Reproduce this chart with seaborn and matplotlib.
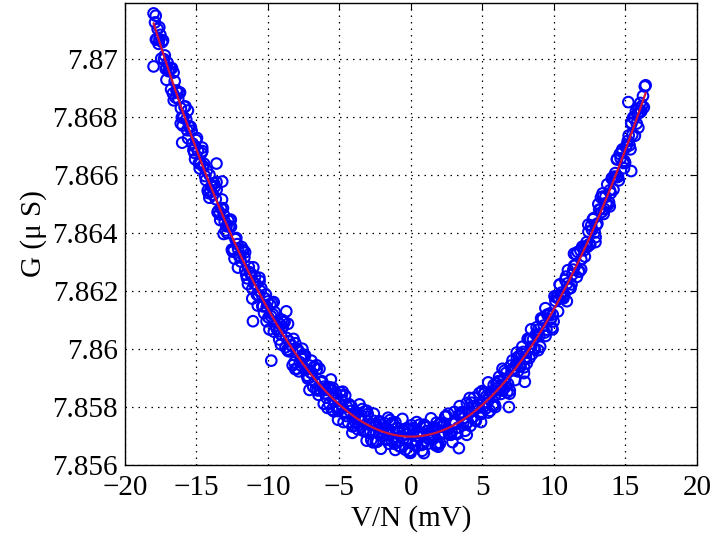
import numpy as np
import pandas as pd
import matplotlib
matplotlib.use("Agg")
import matplotlib.pyplot as plt
import seaborn as sns

# ---- data (V/N in mV, G in micro-siemens) ----
v_scan_a = [-17.9, -17.65, -17.4, -17.15, -16.9, -16.65, -16.4, -16.15, -15.9, -15.65,
            -15.4, -15.15, -14.9, -14.65, -14.4, -14.15, -13.9, -13.65, -13.4, -13.15,
            -12.9, -12.65, -12.4, -12.15, -11.9, -11.65, -11.4, -11.15, -10.9, -10.65,
            -10.4, -10.15, -9.9, -9.65, -9.4, -9.15, -8.9, -8.65, -8.4, -8.15,
            -7.9, -7.65, -7.4, -7.15, -6.9, -6.65, -6.4, -6.15, -5.9, -5.65,
            -5.4, -5.15, -4.9, -4.65, -4.4, -4.15, -3.9, -3.65, -3.4, -3.15,
            -2.9, -2.65, -2.4, -2.15, -1.9, -1.65, -1.4, -1.15, -0.9, -0.65,
            -0.4, -0.15, 0.1, 0.35, 0.6, 0.85, 1.1, 1.35, 1.6, 1.85,
            2.1, 2.35, 2.6, 2.85, 3.1, 3.35, 3.6, 3.85, 4.1, 4.35,
            4.6, 4.85, 5.1, 5.35, 5.6, 5.85, 6.1, 6.35, 6.6, 6.85,
            7.1, 7.35, 7.6, 7.85, 8.1, 8.35, 8.6, 8.85, 9.1, 9.35,
            9.6, 9.85, 10.1, 10.35, 10.6, 10.85, 11.1, 11.35, 11.6, 11.85,
            12.1, 12.35, 12.6, 12.85, 13.1, 13.35, 13.6, 13.85, 14.1, 14.35,
            14.6, 14.85, 15.1, 15.35, 15.6, 15.85, 16.1, 16.35]
g_scan_a = [7.87127, 7.87053, 7.87059, 7.86966, 7.86959, 7.86882, 7.86892, 7.86885, 7.86801, 7.86755,
            7.86766, 7.86677, 7.86684, 7.86676, 7.86597, 7.86538, 7.86565, 7.86517, 7.86465, 7.86486,
            7.86424, 7.86446, 7.86344, 7.86362, 7.86302, 7.86316, 7.86224, 7.86252, 7.86250, 7.86186,
            7.86148, 7.86188, 7.86068, 7.86119, 7.86071, 7.86085, 7.86096, 7.85998, 7.86013, 7.85954,
            7.85997, 7.85942, 7.85978, 7.85902, 7.85916, 7.85862, 7.85932, 7.85863, 7.85832, 7.85867,
            7.85785, 7.85829, 7.85825, 7.85784, 7.85747, 7.85801, 7.85749, 7.85766, 7.85793, 7.85716,
            7.85739, 7.85678, 7.85740, 7.85747, 7.85703, 7.85689, 7.85741, 7.85673, 7.85713, 7.85699,
            7.85653, 7.85722, 7.85705, 7.85683, 7.85739, 7.85672, 7.85717, 7.85700, 7.85728, 7.85674,
            7.85746, 7.85709, 7.85777, 7.85713, 7.85744, 7.85658, 7.85779, 7.85742, 7.85831, 7.85765,
            7.85800, 7.85775, 7.85846, 7.85815, 7.85853, 7.85808, 7.85889, 7.85874, 7.85869, 7.85800,
            7.85961, 7.85947, 7.85941, 7.85990, 7.85951, 7.86034, 7.86004, 7.86050, 7.86106, 7.86057,
            7.86117, 7.86074, 7.86166, 7.86173, 7.86179, 7.86250, 7.86211, 7.86274, 7.86249, 7.86340,
            7.86341, 7.86353, 7.86426, 7.86402, 7.86500, 7.86473, 7.86526, 7.86506, 7.86592, 7.86593,
            7.86673, 7.86642, 7.86705, 7.86689, 7.86796, 7.86814, 7.86820, 7.86906]

v_scan_b = [-17.775, -17.525, -17.275, -17.025, -16.775, -16.525, -16.275, -16.025, -15.775, -15.525,
            -15.275, -15.025, -14.775, -14.525, -14.275, -14.025, -13.775, -13.525, -13.275, -13.025,
            -12.775, -12.525, -12.275, -12.025, -11.775, -11.525, -11.275, -11.025, -10.775, -10.525,
            -10.275, -10.025, -9.775, -9.525, -9.275, -9.025, -8.775, -8.525, -8.275, -8.025,
            -7.775, -7.525, -7.275, -7.025, -6.775, -6.525, -6.275, -6.025, -5.775, -5.525,
            -5.275, -5.025, -4.775, -4.525, -4.275, -4.025, -3.775, -3.525, -3.275, -3.025,
            -2.775, -2.525, -2.275, -2.025, -1.775, -1.525, -1.275, -1.025, -0.775, -0.525,
            -0.275, -0.025, 0.225, 0.475, 0.725, 0.975, 1.225, 1.475, 1.725, 1.975,
            2.225, 2.475, 2.725, 2.975, 3.225, 3.475, 3.725, 3.975, 4.225, 4.475,
            4.725, 4.975, 5.225, 5.475, 5.725, 5.975, 6.225, 6.475, 6.725, 6.975,
            7.225, 7.475, 7.725, 7.975, 8.225, 8.475, 8.725, 8.975, 9.225, 9.475,
            9.725, 9.975, 10.225, 10.475, 10.725, 10.975, 11.225, 11.475, 11.725, 11.975,
            12.225, 12.475, 12.725, 12.975, 13.225, 13.475, 13.725, 13.975, 14.225, 14.475,
            14.725, 14.975, 15.225, 15.475, 15.725, 15.975, 16.225]
g_scan_b = [7.87068, 7.87084, 7.87000, 7.86988, 7.86896, 7.86924, 7.86863, 7.86799, 7.86837, 7.86768,
            7.86709, 7.86721, 7.86623, 7.86630, 7.86616, 7.86545, 7.86572, 7.86472, 7.86485, 7.86439,
            7.86443, 7.86343, 7.86379, 7.86322, 7.86342, 7.86257, 7.86265, 7.86282, 7.86188, 7.86200,
            7.86124, 7.86164, 7.86113, 7.86127, 7.86061, 7.86101, 7.86006, 7.86027, 7.85944, 7.86001,
            7.85955, 7.85981, 7.85908, 7.85919, 7.85939, 7.85857, 7.85885, 7.85847, 7.85869, 7.85791,
            7.85850, 7.85797, 7.85853, 7.85769, 7.85786, 7.85737, 7.85780, 7.85752, 7.85720, 7.85776,
            7.85686, 7.85737, 7.85748, 7.85700, 7.85716, 7.85673, 7.85747, 7.85682, 7.85715, 7.85691,
            7.85727, 7.85642, 7.85719, 7.85698, 7.85669, 7.85736, 7.85691, 7.85724, 7.85668, 7.85739,
            7.85713, 7.85769, 7.85705, 7.85746, 7.85707, 7.85770, 7.85763, 7.85748, 7.85815, 7.85755,
            7.85807, 7.85855, 7.85795, 7.85837, 7.85803, 7.85882, 7.85857, 7.85896, 7.85851, 7.85943,
            7.85927, 7.85923, 7.85984, 7.85965, 7.86035, 7.85983, 7.86050, 7.86046, 7.86106, 7.86067,
            7.86123, 7.86095, 7.86179, 7.86184, 7.86188, 7.86272, 7.86223, 7.86288, 7.86267, 7.86353,
            7.86354, 7.86362, 7.86448, 7.86428, 7.86481, 7.86466, 7.86568, 7.86538, 7.86595, 7.86594,
            7.86681, 7.86643, 7.86737, 7.86739, 7.86820, 7.86815, 7.86873]

v_scan_c = [-17.6, -17.1, -16.6, -16.1, -15.6, -15.1, -14.6, -14.1, -13.6, -13.1,
            -12.6, -12.1, -11.6, -11.1, -10.6, -10.1, -9.6, -9.1, -8.6, -8.1,
            -7.6, -7.1, -6.6, -6.1, -5.6, -5.1, -4.6, -4.1, -3.6, -3.1,
            -2.6, -2.1, -1.6, -1.1, -0.6, -0.1, 0.4, 0.9, 1.4, 1.9,
            2.4, 2.9, 3.4, 3.9, 4.4, 4.9, 5.4, 5.9, 6.4, 6.9,
            7.4, 7.9, 8.4, 8.9, 9.4, 9.9, 10.4, 10.9, 11.4, 11.9,
            12.4, 12.9, 13.4, 13.9, 14.4, 14.9, 15.4, 15.9]
g_scan_c = [7.87110, 7.86929, 7.86954, 7.86778, 7.86823, 7.86655, 7.86695, 7.86522, 7.86576, 7.86397,
            7.86446, 7.86281, 7.86334, 7.86174, 7.86246, 7.86096, 7.86162, 7.86016, 7.86087, 7.85931,
            7.86001, 7.85859, 7.85944, 7.85811, 7.85895, 7.85756, 7.85840, 7.85711, 7.85809, 7.85684,
            7.85777, 7.85656, 7.85763, 7.85652, 7.85759, 7.85642, 7.85748, 7.85641, 7.85761, 7.85663,
            7.85767, 7.85679, 7.85803, 7.85704, 7.85832, 7.85748, 7.85885, 7.85800, 7.85932, 7.85846,
            7.85988, 7.85917, 7.86068, 7.85996, 7.86141, 7.86068, 7.86223, 7.86165, 7.86329, 7.86275,
            7.86429, 7.86369, 7.86537, 7.86492, 7.86654, 7.86624, 7.86781, 7.86764]

v_scan_d = [-17.84, -17.59, -17.34, -17.09, -16.84, -16.59, -16.34, -16.09, -15.84, -15.59,
            -15.34, -15.09, -14.84, -14.59, -14.34, -14.09, -13.84, -13.59, -13.34, -13.09,
            -12.84, -12.59, -12.34, -12.09, -11.84, -11.59, -11.34, -11.09, -10.84, -10.59,
            -10.34, -10.09, -9.84, -9.59, -9.34, -9.09, -8.84, -8.59, -8.34, -8.09,
            -7.84, -7.59, -7.34, -7.09, -6.84, -6.59, -6.34, -6.09, -5.84, -5.59,
            -5.34, -5.09, -4.84, -4.59, -4.34, -4.09, -3.84, -3.59, -3.34, -3.09,
            -2.84, -2.59, -2.34, -2.09, -1.84, -1.59, -1.34, -1.09, -0.84, -0.59,
            -0.34, -0.09, 0.16, 0.41, 0.66, 0.91, 1.16, 1.41, 1.66, 1.91,
            2.16, 2.41, 2.66, 2.91, 3.16, 3.41, 3.66, 3.91, 4.16, 4.41,
            4.66, 4.91, 5.16, 5.41, 5.66, 5.91, 6.16, 6.41, 6.66, 6.91,
            7.16, 7.41, 7.66, 7.91, 8.16, 8.41, 8.66, 8.91, 9.16, 9.41,
            9.66, 9.91, 10.16, 10.41, 10.66, 10.91, 11.16, 11.41, 11.66, 11.91,
            12.16, 12.41, 12.66, 12.91, 13.16, 13.41, 13.66, 13.91, 14.16, 14.41,
            14.66, 14.91, 15.16, 15.41, 15.66, 15.91, 16.16, 16.41]
g_scan_d = [7.87068, 7.87069, 7.87065, 7.86970, 7.86970, 7.86858, 7.86886, 7.86831, 7.86836, 7.86727,
            7.86753, 7.86699, 7.86641, 7.86683, 7.86583, 7.86601, 7.86532, 7.86550, 7.86445, 7.86463,
            7.86400, 7.86422, 7.86312, 7.86346, 7.86352, 7.86273, 7.86283, 7.86208, 7.86224, 7.86235,
            7.86148, 7.86145, 7.86153, 7.86060, 7.86096, 7.86050, 7.86093, 7.85993, 7.86012, 7.86020,
            7.85923, 7.85968, 7.85929, 7.85943, 7.85870, 7.85930, 7.85859, 7.85870, 7.85797, 7.85856,
            7.85822, 7.85786, 7.85840, 7.85778, 7.85810, 7.85733, 7.85777, 7.85759, 7.85718, 7.85787,
            7.85715, 7.85752, 7.85681, 7.85726, 7.85744, 7.85703, 7.85683, 7.85747, 7.85666, 7.85719,
            7.85706, 7.85649, 7.85727, 7.85683, 7.85711, 7.85739, 7.85673, 7.85706, 7.85731, 7.85671,
            7.85732, 7.85767, 7.85708, 7.85743, 7.85711, 7.85776, 7.85746, 7.85814, 7.85735, 7.85800,
            7.85797, 7.85778, 7.85849, 7.85781, 7.85850, 7.85843, 7.85904, 7.85857, 7.85918, 7.85857,
            7.85933, 7.85969, 7.85940, 7.85937, 7.86035, 7.86008, 7.85999, 7.86067, 7.86101, 7.86045,
            7.86119, 7.86119, 7.86179, 7.86222, 7.86175, 7.86226, 7.86210, 7.86288, 7.86335, 7.86309,
            7.86319, 7.86405, 7.86411, 7.86386, 7.86481, 7.86526, 7.86503, 7.86548, 7.86550, 7.86656,
            7.86658, 7.86650, 7.86718, 7.86777, 7.86736, 7.86830, 7.86839, 7.86910]

v_scan_e = [-17.715, -17.465, -17.215, -16.965, -16.715, -16.465, -16.215, -15.965, -15.715, -15.465,
            -15.215, -14.965, -14.715, -14.465, -14.215, -13.965, -13.715, -13.465, -13.215, -12.965,
            -12.715, -12.465, -12.215, -11.965, -11.715, -11.465, -11.215, -10.965, -10.715, -10.465,
            -10.215, -9.965, -9.715, -9.465, -9.215, -8.965, -8.715, -8.465, -8.215, -7.965,
            -7.715, -7.465, -7.215, -6.965, -6.715, -6.465, -6.215, -5.965, -5.715, -5.465,
            -5.215, -4.965, -4.715, -4.465, -4.215, -3.965, -3.715, -3.465, -3.215, -2.965,
            -2.715, -2.465, -2.215, -1.965, -1.715, -1.465, -1.215, -0.965, -0.715, -0.465,
            -0.215, 0.035, 0.285, 0.535, 0.785, 1.035, 1.285, 1.535, 1.785, 2.035,
            2.285, 2.535, 2.785, 3.035, 3.285, 3.535, 3.785, 4.035, 4.285, 4.535,
            4.785, 5.035, 5.285, 5.535, 5.785, 6.035, 6.285, 6.535, 6.785, 7.035,
            7.285, 7.535, 7.785, 8.035, 8.285, 8.535, 8.785, 9.035, 9.285, 9.535,
            9.785, 10.035, 10.285, 10.535, 10.785, 11.035, 11.285, 11.535, 11.785, 12.035,
            12.285, 12.535, 12.785, 13.035, 13.285, 13.535, 13.785, 14.035, 14.285, 14.535,
            14.785, 15.035, 15.285, 15.535, 15.785, 16.035, 16.285]
g_scan_e = [7.87104, 7.87002, 7.87013, 7.86959, 7.86969, 7.86868, 7.86884, 7.86771, 7.86792, 7.86768,
            7.86686, 7.86728, 7.86640, 7.86639, 7.86547, 7.86561, 7.86560, 7.86477, 7.86516, 7.86409,
            7.86423, 7.86336, 7.86383, 7.86320, 7.86341, 7.86244, 7.86261, 7.86226, 7.86150, 7.86210,
            7.86175, 7.86109, 7.86158, 7.86080, 7.86033, 7.86076, 7.86039, 7.85992, 7.86035, 7.85932,
            7.85971, 7.85972, 7.85898, 7.85960, 7.85885, 7.85842, 7.85889, 7.85859, 7.85811, 7.85866,
            7.85799, 7.85851, 7.85748, 7.85800, 7.85804, 7.85762, 7.85723, 7.85770, 7.85785, 7.85711,
            7.85740, 7.85679, 7.85751, 7.85714, 7.85688, 7.85755, 7.85692, 7.85727, 7.85662, 7.85717,
            7.85692, 7.85737, 7.85667, 7.85710, 7.85649, 7.85730, 7.85712, 7.85689, 7.85746, 7.85675,
            7.85739, 7.85725, 7.85704, 7.85783, 7.85729, 7.85782, 7.85718, 7.85778, 7.85802, 7.85752,
            7.85848, 7.85798, 7.85838, 7.85787, 7.85876, 7.85865, 7.85845, 7.85925, 7.85880, 7.85927,
            7.85893, 7.85975, 7.86008, 7.85973, 7.85969, 7.86033, 7.86075, 7.86008, 7.86081, 7.86119,
            7.86103, 7.86182, 7.86130, 7.86195, 7.86239, 7.86208, 7.86257, 7.86327, 7.86268, 7.86352,
            7.86369, 7.86361, 7.86452, 7.86433, 7.86523, 7.86483, 7.86498, 7.86588, 7.86607, 7.86582,
            7.86689, 7.86696, 7.86703, 7.86799, 7.86778, 7.86849, 7.86834]

v_stray = [-18.0, -17.85, -18.0, -16.0, -13.6, -13.2, -11.05, -9.77, -8.72, 7.96, 15.2, 15.4]
g_stray = [7.87158, 7.87150, 7.86975, 7.86712, 7.86640, 7.86578, 7.86096, 7.85960, 7.86130,
           7.85887, 7.86852, 7.86614]

x_ticks = [-20, -15, -10, -5, 0, 5, 10, 15, 20]
x_tick_labels = ["\u221220", "\u221215", "\u221210", "\u22125", "0", "5", "10", "15", "20"]
y_ticks = [7.856, 7.858, 7.860, 7.862, 7.864, 7.866, 7.868, 7.870]
y_tick_labels = ["7.856", "7.858", "7.86", "7.862", "7.864", "7.866", "7.868", "7.87"]

df = pd.DataFrame({
    "V": np.concatenate([v_scan_a, v_scan_b, v_scan_c, v_scan_d, v_scan_e, v_stray]),
    "G": np.concatenate([g_scan_a, g_scan_b, g_scan_c, g_scan_d, g_scan_e, g_stray]),
})

sns.set_theme(style="white")
plt.rcParams["font.family"] = ["Liberation Serif", "DejaVu Serif"]
plt.rcParams["axes.edgecolor"] = "black"

fig = plt.figure(figsize=(7.15, 5.36), dpi=100)
ax = fig.add_axes([0.1748, 0.1325, 0.8, 0.8625])

sns.regplot(data=df, x="V", y="G", order=2, ci=None, ax=ax, color="#0000ff", marker="o",
            scatter_kws=dict(facecolors="none", s=58, linewidths=1.5, alpha=1, zorder=2),
            line_kws=dict(color="#d0143c", lw=1.6, zorder=3))

ax.set_xlim(-20, 20)
ax.set_ylim(7.856, 7.87195)
ax.set_xticks(x_ticks)
ax.set_xticklabels(x_tick_labels)
ax.set_yticks(y_ticks)
ax.set_yticklabels(y_tick_labels)

ax.grid(True, color="black", linestyle=(0, (1.2, 4)), linewidth=0.9)
ax.set_axisbelow(True)
ax.tick_params(direction="in", top=True, right=True, length=5, width=0.8,
               labelsize=21, colors="black", pad=5)
ax.tick_params(axis="x", pad=7)
for s in ax.spines.values():
    s.set_color("black")
    s.set_linewidth(1.0)

ax.set_xlabel("V/N (mV)", fontsize=21, color="black", labelpad=3)
ax.set_ylabel("G (\u03bc S)", fontsize=21, color="black", labelpad=4)

fig.savefig("out.png", dpi=100)
